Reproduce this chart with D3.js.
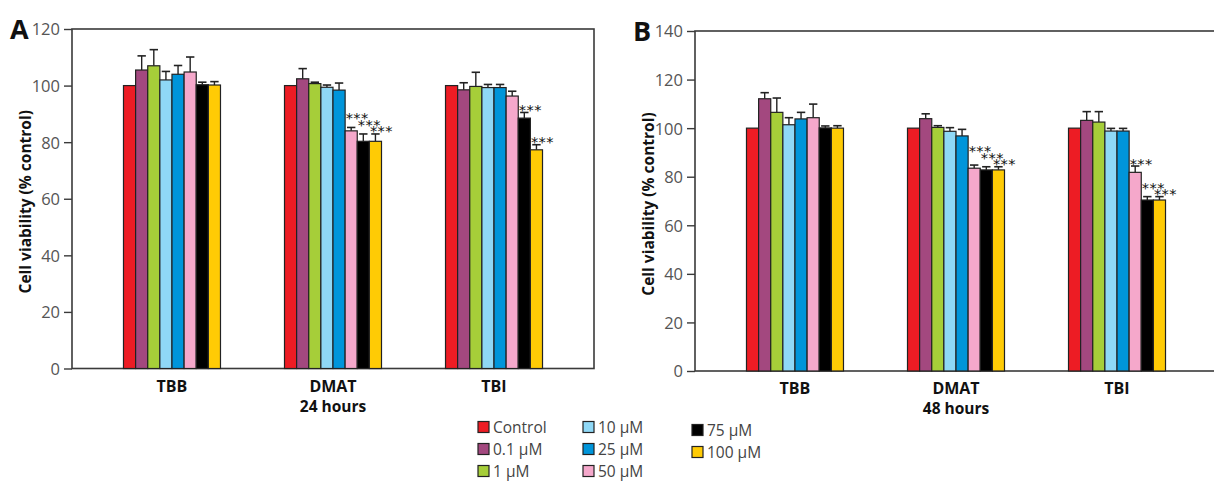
<!DOCTYPE html>
<html><head><meta charset="utf-8">
<script src="https://cdn.jsdelivr.net/npm/d3@7"></script>
<style>
body{margin:0;background:#fff;}
svg{display:block;font-family:"Open Sans",sans-serif;}
</style></head>
<body><svg id="c" width="1214" height="481"></svg>
<script>
const categories = ["TBB", "DMAT", "TBI"];
const concentrations = ["Control", "0.1 µM", "1 µM", "10 µM", "25 µM", "50 µM", "75 µM", "100 µM"];
const colors = ["#ed1c24", "#a3487f", "#a6ce39", "#8fd8f6", "#0095da", "#f5a8cb", "#000000", "#ffcb05"];

const ticks24 = [0, 20, 40, 60, 80, 100, 120];
const means24 = [
  [100, 105.5, 107.0, 102.0, 104.0, 104.8, 100.3, 100.2],
  [100, 102.4, 100.7, 99.4, 98.4, 84.0, 80.3, 80.3],
  [100, 98.5, 99.7, 99.3, 99.3, 96.3, 88.5, 77.3]
];
const err24 = [
  [0, 5.0, 5.7, 3.0, 3.1, 5.3, 0.9, 1.2],
  [0, 3.6, 0.5, 0.8, 2.5, 1.2, 2.6, 2.6],
  [0, 2.5, 5.0, 1.1, 1.1, 1.7, 2.0, 1.8]
];
const sig24 = [
  ["", "", "", "", "", "", "", ""],
  ["", "", "", "", "", "***", "***", "***"],
  ["", "", "", "", "", "", "***", "***"]
];

const ticks48 = [0, 20, 40, 60, 80, 100, 120, 140];
const means48 = [
  [100, 112.1, 106.5, 101.4, 103.8, 104.3, 100.1, 100.0],
  [100, 103.9, 100.3, 98.7, 96.8, 83.5, 82.8, 82.8],
  [100, 103.2, 102.5, 98.8, 98.8, 81.8, 70.4, 70.4]
];
const err48 = [
  [0, 2.5, 5.9, 2.9, 2.7, 5.6, 0.8, 1.0],
  [0, 2.0, 0.7, 1.5, 2.7, 1.3, 1.3, 1.3],
  [0, 3.6, 4.3, 1.1, 1.1, 2.6, 1.4, 1.4]
];
const sig48 = [
  ["", "", "", "", "", "", "", ""],
  ["", "", "", "", "", "***", "***", "***"],
  ["", "", "", "", "", "***", "***", "***"]
];

const svg = d3.select("#c");

function drawPanel(o) {
  const g = svg.append("g");
  const y = d3.scaleLinear().domain([0, d3.max(o.ticks)]).range([o.bottom, o.top]);
  const x = d3.scalePoint().domain(categories).range([o.left, o.right]).padding(0.621);
  const xb = d3.scaleBand().domain(concentrations).range([-48.5, 48.5]).padding(0);

  g.append("rect").attr("x", o.left).attr("y", o.top)
    .attr("width", o.right - o.left).attr("height", o.bottom - o.top)
    .attr("fill", "none").attr("stroke", "#3a3a3a").attr("stroke-width", 1.6);

  const ax = g.append("g").attr("transform", `translate(${o.left},0)`)
    .call(d3.axisLeft(y).tickValues(o.ticks).tickSize(8).tickSizeOuter(0).tickPadding(4));
  ax.select(".domain").remove();
  ax.selectAll(".tick line").attr("stroke", "#3a3a3a").attr("stroke-width", 1.4);
  ax.selectAll(".tick text").attr("font-size", 16.5).attr("fill", "#555")
    .attr("font-family", "'Open Sans',sans-serif").attr("dy", "0.36em");

  g.append("text")
    .attr("transform", `translate(${o.left - 41},${(o.top + o.bottom) / 2 + 3}) rotate(-90)`)
    .attr("text-anchor", "middle").attr("font-weight", "bold").attr("font-size", 15.5)
    .attr("fill", "#111").text("Cell viability (% control)");

  g.append("text").attr("x", o.left - 62).attr("y", o.top + 10)
    .attr("font-weight", "bold").attr("font-size", 27).attr("fill", "#111").text(o.letter);

  categories.forEach((cat, ci) => {
    const cx = x(cat);
    const grp = g.append("g").attr("transform", `translate(${cx},0)`);
    const vals = o.means[ci];
    grp.selectAll("g.err").data(vals.map((v, i) => ({v, e: o.err[ci][i], c: concentrations[i]})).filter(d => d.e > 0))
      .join("g").attr("class", "err").each(function(d) {
        const s = d3.select(this);
        const bx = xb(d.c) + xb.bandwidth() / 2;
        s.append("line").attr("x1", bx).attr("x2", bx).attr("y1", y(d.v)).attr("y2", y(d.v + d.e))
          .attr("stroke", "#222").attr("stroke-width", 1.4);
        s.append("line").attr("x1", bx - 4.2).attr("x2", bx + 4.2).attr("y1", y(d.v + d.e)).attr("y2", y(d.v + d.e))
          .attr("stroke", "#222").attr("stroke-width", 1.6);
      });
    grp.selectAll("rect").data(vals).join("rect")
      .attr("x", (d, i) => xb(concentrations[i]))
      .attr("y", d => y(d))
      .attr("width", xb.bandwidth())
      .attr("height", d => y(0) - y(d))
      .attr("fill", (d, i) => colors[i])
      .attr("stroke", "#222").attr("stroke-width", 1.2);

    let prevY = null;
    for (let i = vals.length - 1; i >= 0; i--) {
      const s = o.sig[ci][i];
      if (!s) { continue; }
      let sy = y(vals[i] + o.err[ci][i]) - 6;
      if (prevY !== null && prevY - sy < 6.5) sy = prevY - 6.5;
      prevY = sy;
      grp.append("text").attr("x", xb(concentrations[i]) + xb.bandwidth() / 2 + 6)
        .attr("y", sy + 8.5).attr("text-anchor", "middle")
        .attr("font-family", "'DejaVu Sans',sans-serif").attr("font-size", 14.5)
        .attr("letter-spacing", 0.4).attr("fill", "#111").text(s);
    }

    g.append("text").attr("x", cx).attr("y", o.bottom + 23).attr("text-anchor", "middle")
      .attr("font-weight", "bold").attr("font-size", 16).attr("fill", "#111").text(cat);
  });

  g.append("text").attr("x", x(categories[1])).attr("y", o.bottom + 43).attr("text-anchor", "middle")
    .attr("font-weight", "bold").attr("font-size", 15.5).attr("fill", "#111").text(o.sub);
}

drawPanel({left: 72, right: 594, top: 29, bottom: 368.5, ticks: ticks24, means: means24, err: err24, sig: sig24, letter: "A", sub: "24 hours"});
drawPanel({left: 695, right: 1217, top: 31, bottom: 371, ticks: ticks48, means: means48, err: err48, sig: sig48, letter: "B", sub: "48 hours"});

const legPos = [[478, 427], [478, 449], [478, 471], [583, 427], [583, 449], [583, 471], [692, 430], [692, 452]];
const leg = svg.append("g");
concentrations.forEach((c, i) => {
  const [lx, ly] = legPos[i];
  leg.append("rect").attr("x", lx).attr("y", ly - 5.5).attr("width", 11).attr("height", 11)
    .attr("fill", colors[i]).attr("stroke", "#222").attr("stroke-width", 1.2);
  leg.append("text").attr("x", lx + 15).attr("y", ly).attr("dy", "0.36em")
    .attr("font-size", 15.5).attr("fill", "#444").text(c);
});
</script></body></html>
